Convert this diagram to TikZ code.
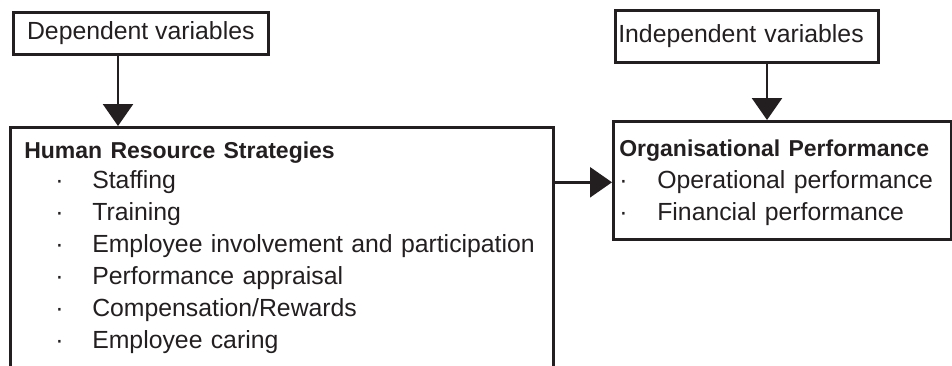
\documentclass[tikz,border=0pt]{standalone}
\usepackage{fontspec}
\setmainfont{Liberation Sans}
\usetikzlibrary{arrows.meta}
\definecolor{ink}{RGB}{35,31,32}
\newcommand{\hrsitem}[1]{\hspace*{31pt}\makebox[37pt][l]{·}#1}
\newcommand{\opitem}[1]{\makebox[38pt][l]{·}#1}
\newcommand{\boxtitle}[1]{{\fontsize{23}{32}\selectfont\bfseries #1}}

\begin{document}
\begin{tikzpicture}[x=1pt,y=-1pt,line width=2.6pt,varbox/.style={draw=ink,text=ink,font=\fontsize{24.8}{32}\selectfont,anchor=north west,inner sep=0pt},listbox/.style={varbox,align=left,text height=17pt},arrow/.style={draw=ink,-{Triangle[width=30pt,length=22pt]}}]
        \clip (0,0) rectangle (952,365);
        \node[varbox,minimum width=255pt,minimum height=42pt] (dep) at (12,11) {Dependent variables};
        \node[varbox,align=left,inner xsep=3pt,text width=257pt,minimum height=52pt] (indep) at (614,9) {Independent variables};

        \node[listbox,inner xsep=14pt,inner ysep=14pt,text width=515pt,text depth=230pt] (hrm) at (9,126)
        {\boxtitle{Human Resource Strategies}\\[-2pt]
        \hrsitem{Staffing}\\
        \hrsitem{Training}\\
        \hrsitem{Employee involvement and participation}\\
        \hrsitem{Performance appraisal}\\
        \hrsitem{Compensation/Rewards}\\
        \hrsitem{Employee caring}};
        \node[listbox,inner xsep=6pt,inner ysep=18pt,text width=326pt,text depth=65pt] (org) at (612,120)
        {\boxtitle{Organisational Performance}\\
        \opitem{Operational performance}\\
        \opitem{Financial performance}};

        \draw[arrow] (dep.south west) ++(106,0) coordinate (d1) -- (d1 |- hrm.north);
        \draw[arrow] (indep.south west) ++(153,0) coordinate (i1) -- (i1 |- org.north);
        \draw[arrow] (org.west) ++(0,2) coordinate (o1) (o1 -| hrm.east) -- (o1);
    \end{tikzpicture}
\end{document}
